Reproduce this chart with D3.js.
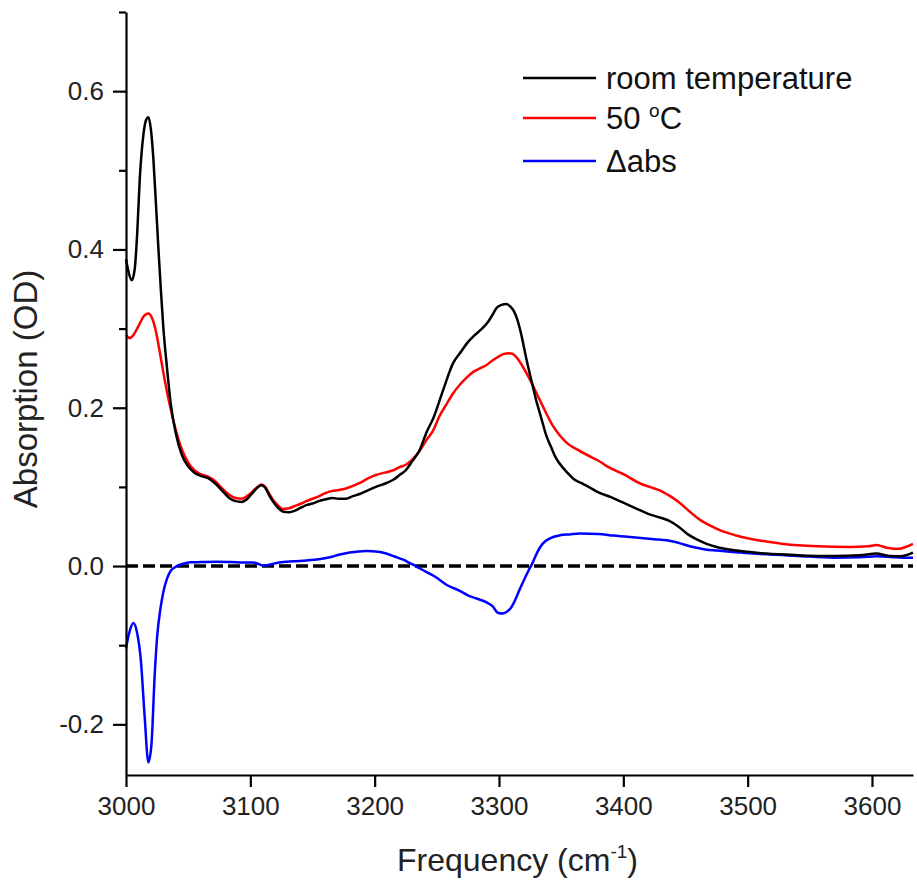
<!DOCTYPE html>
<html>
<head>
<meta charset="utf-8">
<script src="https://cdn.jsdelivr.net/npm/d3@7/dist/d3.min.js"></script>
<style>
html,body{margin:0;padding:0;background:#fff;overflow:hidden;}
svg{display:block;font-family:"Liberation Sans",Arial,Helvetica,sans-serif;}
</style>
</head>
<body>
<svg id="chart" width="917" height="882"></svg>
<script>
// ---- data ----
const roomTemp = [
[3000,0.388],[3002,0.372],[3004.6,0.361],[3007,0.375],[3009,0.42],[3011,0.487],[3014,0.545],[3016,0.563],[3018,0.567],
[3020,0.552],[3022,0.515],[3024,0.46],[3026,0.403],[3028,0.35],[3030,0.302],[3033,0.25],[3036,0.205],[3040,0.168],
[3045,0.14],[3050,0.126],[3055,0.118],[3060,0.114],[3066,0.111],[3072,0.104],[3078,0.094],[3083,0.086],[3088,0.082],
[3093,0.081],[3097,0.084],[3101,0.091],[3105,0.098],[3109,0.102],[3112,0.099],[3115,0.09],[3118,0.082],[3122,0.074],
[3126,0.069],[3131,0.068],[3136,0.070],[3141,0.074],[3145,0.077],[3150,0.079],[3155,0.082],[3160,0.084],[3166,0.086],
[3171,0.085],[3177,0.085],[3182,0.088],[3188,0.091],[3195,0.096],[3201,0.100],[3208,0.104],[3215,0.109],[3220,0.115],
[3225,0.121],[3230,0.132],[3236,0.146],[3242,0.17],[3247,0.186],[3255,0.222],[3263,0.256],[3270,0.272],[3274,0.281],
[3280,0.291],[3285,0.298],[3291,0.308],[3295,0.318],[3298,0.326],[3302,0.330],[3306,0.331],[3309,0.328],[3312,0.322],
[3315,0.310],[3318,0.292],[3322,0.262],[3326,0.235],[3330,0.209],[3334,0.187],[3338,0.165],[3342,0.150],[3346,0.136],
[3351,0.125],[3355,0.118],[3360,0.110],[3366,0.105],[3371,0.101],[3380,0.093],[3390,0.087],[3400,0.080],[3410,0.073],
[3420,0.066],[3430,0.061],[3437,0.057],[3445,0.049],[3452,0.040],[3460,0.033],[3467,0.028],[3475,0.024],[3489,0.020],
[3500,0.018],[3515,0.0157],[3540,0.0137],[3570,0.0126],[3590,0.0135],[3604,0.0157],[3610,0.014],[3615,0.0126],
[3623,0.0123],[3628,0.014],[3633,0.017]
];
const hot50 = [
[3000,0.292],[3003,0.288],[3006,0.292],[3010,0.303],[3014,0.315],[3018,0.319],[3021,0.313],[3024,0.297],[3027,0.272],
[3030,0.245],[3033,0.22],[3036,0.198],[3040,0.172],[3045,0.147],[3050,0.131],[3055,0.121],[3060,0.116],[3066,0.113],
[3072,0.107],[3078,0.097],[3083,0.090],[3088,0.086],[3093,0.085],[3097,0.088],[3101,0.093],[3105,0.099],[3109,0.103],
[3112,0.100],[3115,0.092],[3118,0.084],[3122,0.077],[3126,0.072],[3131,0.073],[3136,0.076],[3141,0.079],[3145,0.082],
[3150,0.085],[3155,0.088],[3160,0.092],[3166,0.095],[3171,0.096],[3177,0.098],[3182,0.101],[3188,0.105],[3195,0.111],
[3201,0.115],[3208,0.118],[3215,0.121],[3220,0.125],[3225,0.128],[3230,0.134],[3236,0.145],[3242,0.160],[3247,0.171],
[3252,0.189],[3258,0.205],[3263,0.218],[3269,0.230],[3274,0.238],[3279,0.245],[3285,0.250],[3290,0.254],[3295,0.260],
[3300,0.265],[3304,0.268],[3308,0.269],[3311,0.268],[3314,0.264],[3318,0.255],[3322,0.244],[3326,0.232],[3330,0.219],
[3334,0.206],[3338,0.193],[3343,0.178],[3349,0.165],[3355,0.155],[3362,0.148],[3370,0.141],[3380,0.133],[3387,0.126],
[3400,0.116],[3414,0.104],[3425,0.098],[3432,0.0935],[3438,0.088],[3446,0.079],[3454,0.068],[3462,0.058],[3470,0.051],
[3478,0.045],[3490,0.039],[3502,0.0346],[3515,0.031],[3529,0.028],[3556,0.025],[3582,0.024],[3597,0.025],[3604,0.0265],
[3608,0.025],[3612,0.023],[3617,0.022],[3622,0.022],[3627,0.024],[3633,0.028]
];
const deltaAbs = [
[3000,-0.104],[3003,-0.082],[3006,-0.072],[3009,-0.085],[3012,-0.12],[3015,-0.19],[3018,-0.248],[3020.5,-0.225],
[3023,-0.14],[3025,-0.09],[3027.5,-0.056],[3030,-0.033],[3033,-0.016],[3036,-0.006],[3041,0.0],[3046,0.003],
[3052,0.0047],[3060,0.005],[3073,0.0055],[3085,0.005],[3095,0.0045],[3102,0.0045],[3106,0.003],[3111,0.0005],
[3116,0.002],[3123,0.0045],[3135,0.006],[3145,0.007],[3155,0.0085],[3164,0.011],[3172,0.0145],[3180,0.017],
[3193,0.019],[3203,0.018],[3210,0.0155],[3216,0.012],[3223,0.008],[3228,0.004],[3233,0.0],[3241,-0.007],
[3249,-0.0139],[3258,-0.024],[3268,-0.031],[3275,-0.037],[3282,-0.041],[3290,-0.046],[3295,-0.051],[3299,-0.059],
[3303,-0.060],[3306,-0.058],[3310,-0.052],[3313,-0.043],[3316,-0.032],[3320,-0.018],[3324,-0.005],[3327,0.004],
[3331,0.018],[3335,0.028],[3341,0.035],[3349,0.0388],[3357,0.040],[3365,0.041],[3380,0.0405],[3392,0.0385],
[3410,0.036],[3425,0.034],[3435,0.0325],[3445,0.029],[3456,0.024],[3466,0.021],[3475,0.0195],[3495,0.017],
[3515,0.0148],[3540,0.0128],[3569,0.0106],[3590,0.011],[3604,0.0123],[3615,0.0115],[3625,0.0105],[3633,0.0106]
];
const xTicks = [3000,3100,3200,3300,3400,3500,3600];
const yMajorTicks = [-0.2,0.0,0.2,0.4,0.6];
const yMinorTicks = [-0.1,0.1,0.3,0.5,0.7];
const seriesNames = ["room temperature","50 oC","\u0394abs"];
const seriesColors = ["#000000","#ff0000","#0000ff"];

// ---- layout ----
const svg = d3.select("#chart");
const L = 126, R = 913, T = 12, B = 775;
const x = d3.scaleLinear().domain([3000, 3633]).range([L, R]);
const y = d3.scaleLinear().domain([-0.264, 0.7]).range([B, T]);

// zero dashed line
svg.append("line")
  .attr("x1", x(3000)).attr("x2", x(3633))
  .attr("y1", y(0)).attr("y2", y(0))
  .attr("stroke", "#000").attr("stroke-width", 3.5)
  .attr("stroke-dasharray", "12,5");

const line = d3.line().x(d => x(d[0])).y(d => y(d[1])).curve(d3.curveMonotoneX);
const allSeries = [roomTemp, hot50, deltaAbs];
[deltaAbs, hot50, roomTemp].forEach((s) => {
  const i = allSeries.indexOf(s);
  svg.append("path").datum(s)
    .attr("d", line)
    .attr("fill", "none")
    .attr("stroke", seriesColors[i])
    .attr("stroke-width", 2.5)
    .attr("stroke-linejoin", "round");
});

// axes
const fmt = v => d3.format(".1f")(v).replace("\u2212", "-");
const xAxis = svg.append("g").attr("transform", `translate(0,${B})`)
  .call(d3.axisBottom(x).tickValues(xTicks).tickSize(12).tickSizeOuter(0).tickPadding(10).tickFormat(d3.format("d")));
const yAxis = svg.append("g").attr("transform", `translate(${L},0)`)
  .call(d3.axisLeft(y).tickValues(yMajorTicks).tickSize(13).tickSizeOuter(0).tickPadding(9).tickFormat(fmt));
const yMinor = svg.append("g").attr("transform", `translate(${L},0)`)
  .call(d3.axisLeft(y).tickValues(yMinorTicks).tickSize(7).tickSizeOuter(0).tickFormat(""));
yMinor.select(".domain").remove();
[xAxis, yAxis, yMinor].forEach(g => {
  g.selectAll(".domain").attr("stroke-width", 2.2).attr("stroke", "#000");
  g.selectAll(".tick line").attr("stroke-width", 2.2).attr("stroke", "#000");
  g.selectAll(".tick text").attr("font-size", 26).attr("fill", "#222")
    .attr("font-family", "'Liberation Sans', Arial, sans-serif");
});
xAxis.selectAll(".tick text").attr("dy", "0.68em");

// axis titles
const xt = svg.append("text").attr("x", (L + R) / 2 - 2).attr("y", 871)
  .attr("text-anchor", "middle").attr("font-size", 32).attr("fill", "#222");
xt.append("tspan").text("Frequency (cm");
xt.append("tspan").text("-1").attr("font-size", 19).attr("dy", -13);
xt.append("tspan").text(")").attr("dy", 13);

svg.append("text")
  .attr("transform", `translate(37,389) rotate(-90)`)
  .attr("text-anchor", "middle").attr("font-size", 33).attr("fill", "#222")
  .text("Absorption (OD)");

// legend
const legY = [78, 118, 161];
seriesNames.forEach((name, i) => {
  svg.append("line").attr("x1", 523).attr("x2", 596)
    .attr("y1", legY[i]).attr("y2", legY[i])
    .attr("stroke", seriesColors[i]).attr("stroke-width", 2.6);
  const t = svg.append("text").attr("x", 606).attr("y", legY[i] + 11)
    .attr("font-size", 31).attr("fill", "#111");
  if (name === "50 oC") {
    t.append("tspan").text("50 ");
    t.append("tspan").text("o").attr("font-size", 19).attr("dy", -12);
    t.append("tspan").text("C").attr("dy", 12);
  } else {
    t.text(name);
  }
});
</script>
</body>
</html>
